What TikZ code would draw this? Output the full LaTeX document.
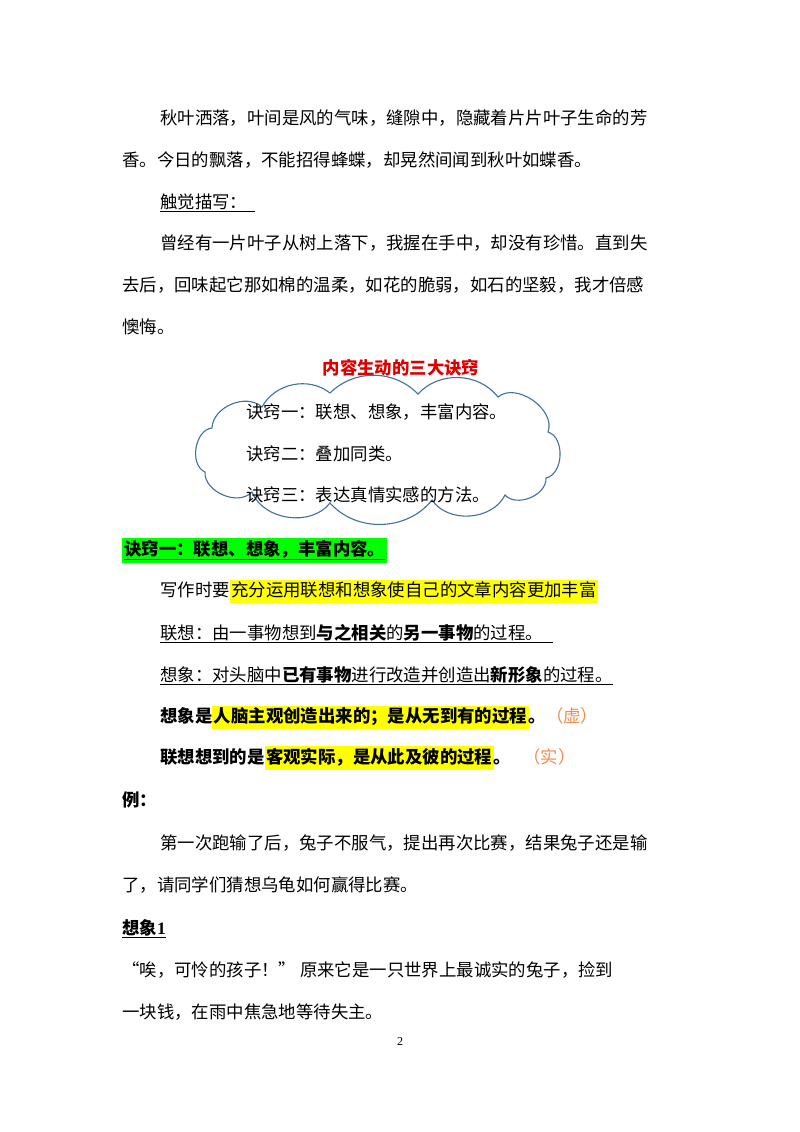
\documentclass[tikz,border=0pt]{standalone}
\usepackage{fontspec}
\setmainfont{Noto Sans CJK SC}
\newfontfamily\numfont{Liberation Serif}
\definecolor{hly}{RGB}{255,255,0}
\definecolor{hlg}{RGB}{0,255,0}
\definecolor{cloudblue}{RGB}{65,113,156}
\definecolor{ttlred}{RGB}{220,0,0}
\definecolor{orng}{RGB}{240,140,80}
\newcommand{\hlY}[1]{{\setlength{\fboxsep}{1.5pt}\colorbox{hly}{\strut #1}}}
\newcommand{\hlG}[1]{{\setlength{\fboxsep}{2pt}\colorbox{hlg}{\strut #1}}}
\tikzset{txt/.style={anchor=base west,inner sep=0pt,font=\fontsize{17.4}{19}\selectfont},
 cloudline/.style={cloudblue,line width=1.1pt}}
\begin{document}
\begin{tikzpicture}[x=1pt,y=-1pt]
\useasboundingbox (0,0) rectangle (800,1132);
\fill[white] (0,0) rectangle (800,1132);
\node[txt] (l1) at (160,124) {秋叶洒落，叶间是风的气味，缝隙中，隐藏着片片叶子生命的芳};
\node[txt] (l2) at (122,166) {香。今日的飘落，不能招得蜂蝶，却晃然间闻到秋叶如蝶香。};
\node[txt] (l3) at (160,208) {\underline{触觉描写：\hspace{8pt}}};
\node[txt] (l4) at (160,249) {曾经有一片叶子从树上落下，我握在手中，却没有珍惜。直到失};
\node[txt] (l5) at (122,291) {去后，回味起它那如棉的温柔，如花的脆弱，如石的坚毅，我才倍感};
\node[txt] (l6) at (122,333) {懊悔。};
\node[anchor=base,inner sep=0pt,font=\fontsize{17.4}{19}\selectfont\bfseries,text=ttlred] (title) at (401,374) {内容生动的三大诀窍};
% cloud
\draw[cloudline]
 (205,472) to[bend left=75] (212,428)
 to[bend left=65] (262,407)
 to[bend left=50] (330,393)
 to[bend left=45] (418,394)
 to[bend left=50] (498,397)
 to[bend left=75] (548,432)
 to[bend left=75] (546,478)
 to[bend left=70] (505,495)
 to[bend left=60] (432,500)
 to[bend left=50] (330,503)
 to[bend left=60] (252,492)
 to[bend left=70] cycle;
\node[txt] (c1) at (246,418) {诀窍一：联想、想象，丰富内容。};
\node[txt] (c2) at (246,460) {诀窍二：叠加同类。};
\node[txt] (c3) at (246,501) {诀窍三：表达真情实感的方法。};
\node[txt,font=\fontsize{17.4}{19}\selectfont\bfseries] (h1) at (122,555) {\hlG{\underline{诀窍一：联想、想象，丰富内容。}}};
\node[txt] (p1) at (160,596) {写作时要\hlY{充分运用联想和想象使自己的文章内容更加丰富}};
\node[txt] (p2) at (160,639) {\underline{联想：由一事物想到\textbf{与之相关}的\textbf{另一事物}的过程。\hspace{10pt}}};
\node[txt] (p3) at (160,681) {\underline{想象：对头脑中\textbf{已有事物}进行改造并创造出\textbf{新形象}的过程。}};
\node[txt,font=\fontsize{17.4}{19}\selectfont\bfseries] (p4) at (160,722) {想象是\hlY{人脑主观创造出来的；是从无到有的过程}。{\mdseries\color{orng}（虚）}};
\node[txt,font=\fontsize{17.4}{19}\selectfont\bfseries] (p5) at (160,763) {联想想到的是\hlY{客观实际，是从此及彼的过程}。\hspace{12pt}{\mdseries\color{orng}（实）}};
\node[txt,font=\fontsize{17.4}{19}\selectfont\bfseries] (p6) at (122,806) {例：};
\node[txt] (p7) at (160,849) {第一次跑输了后，兔子不服气，提出再次比赛，结果兔子还是输};
\node[txt] (p8) at (122,891) {了，请同学们猜想乌龟如何赢得比赛。};
\node[txt,font=\fontsize{17.4}{19}\selectfont\bfseries] (p9) at (122,934) {\underline{想象{\numfont 1}}};
\node[txt] (p10) at (122,976) {“唉，可怜的孩子！” 原来它是一只世界上最诚实的兔子，捡到};
\node[txt] (p11) at (122,1018) {一块钱，在雨中焦急地等待失主。};
\node[anchor=base,inner sep=0pt,font=\fontsize{12}{14}\numfont] (pg) at (400,1045) {2};
\end{tikzpicture}
\end{document}
